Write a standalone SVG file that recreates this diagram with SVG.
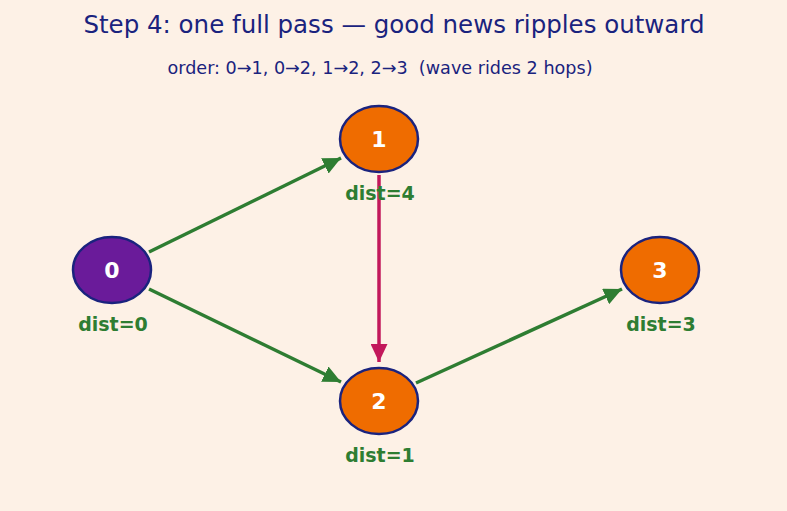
<svg xmlns="http://www.w3.org/2000/svg" width="787" height="511" viewBox="0 0 787 511">
<defs>
<style>
.title{font-family:"DejaVu Sans",sans-serif;font-size:24.5px;fill:#1a237e;text-anchor:middle}
.sub{font-family:"DejaVu Sans",sans-serif;font-size:17.6px;fill:#1a237e;text-anchor:middle}
.node{stroke:#1a237e;stroke-width:2.5}
.num{font-family:"DejaVu Sans",sans-serif;font-size:22px;font-weight:bold;fill:#ffffff;text-anchor:middle}
.dist{font-family:"DejaVu Sans",sans-serif;font-size:19px;font-weight:bold;fill:#2e7d32;text-anchor:middle}
.g{stroke:#2e7d32;stroke-width:3.5;fill:none}
.m{stroke:#c2185b;stroke-width:3.5;fill:none}
</style>
<marker id="ag" markerUnits="userSpaceOnUse" markerWidth="19" markerHeight="17" refX="18" refY="8.5" orient="auto"><path d="M0,0 L18,8.5 L0,17 Z" fill="#2e7d32"/></marker>
<marker id="am" markerUnits="userSpaceOnUse" markerWidth="19" markerHeight="17" refX="18" refY="8.5" orient="auto"><path d="M0,0 L18,8.5 L0,17 Z" fill="#c2185b"/></marker>
</defs>
<rect width="787" height="511" fill="#fdf1e6"/>
<text class="title" x="394" y="33">Step 4: one full pass — good news ripples outward</text>
<text class="sub" x="380" y="74" xml:space="preserve">order: 0→1, 0→2, 1→2, 2→3  (wave rides 2 hops)</text>
<g id="connectors">
<line class="g" x1="149" y1="252" x2="341" y2="158" marker-end="url(#ag)"/>
<line class="g" x1="149" y1="289" x2="341" y2="382" marker-end="url(#ag)"/>
<line class="m" x1="379" y1="175" x2="379" y2="362" marker-end="url(#am)"/>
<line class="g" x1="416" y1="383" x2="622" y2="289" marker-end="url(#ag)"/>
</g>
<g id="node0"><ellipse class="node" cx="112" cy="270" rx="39" ry="33" fill="#6a1b9a"/><text class="num" x="112" y="278">0</text><text class="dist" x="113" y="331">dist=0</text></g>
<g id="node1"><ellipse class="node" cx="379" cy="139" rx="39" ry="33" fill="#ef6c00"/><text class="num" x="379" y="147">1</text><text class="dist" x="380" y="200">dist=4</text></g>
<g id="node2"><ellipse class="node" cx="379" cy="401" rx="39" ry="33" fill="#ef6c00"/><text class="num" x="379" y="409">2</text><text class="dist" x="380" y="462">dist=1</text></g>
<g id="node3"><ellipse class="node" cx="660" cy="270" rx="39" ry="33" fill="#ef6c00"/><text class="num" x="660" y="278">3</text><text class="dist" x="661" y="331">dist=3</text></g>
</svg>
